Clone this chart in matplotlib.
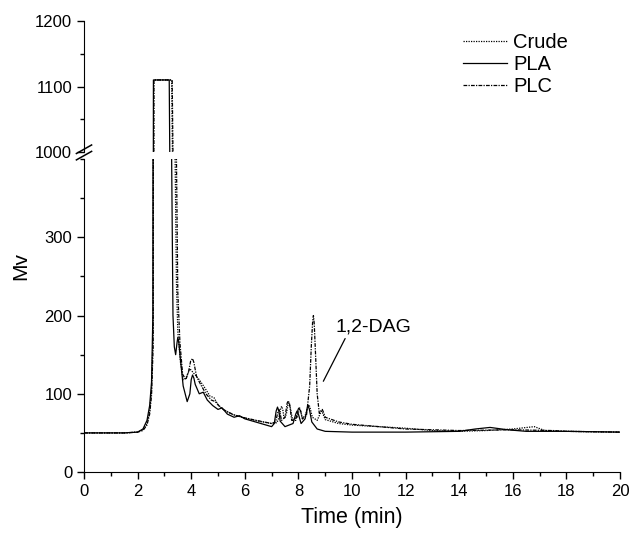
import matplotlib
matplotlib.use("Agg")
import matplotlib.pyplot as plt
from matplotlib.lines import Line2D
from matplotlib.ticker import MultipleLocator

plt.rcParams['font.family'] = ['Liberation Sans', 'DejaVu Sans']

# values (time in min, signal in Mv)
crude_t = [0, 1.5, 2.0, 2.2, 2.35, 2.45, 2.52, 2.58, 2.6, 3.27, 3.3, 3.4, 3.45, 3.5,
           3.6, 3.7, 3.8, 3.95, 4.05, 4.15, 4.3, 4.5, 4.7, 4.85, 5.0, 5.2, 5.5, 5.7,
           6.0, 6.5, 7.0, 7.2, 7.3, 7.34, 7.38, 7.42, 7.47, 7.55, 7.61, 7.65, 7.7,
           7.78, 7.95, 8.02, 8.05, 8.09, 8.15, 8.28, 8.36, 8.4, 8.45, 8.52, 8.7,
           8.83, 8.87, 8.92, 9.0, 9.5, 10, 11, 12, 13, 14, 15, 16, 16.8,
           17.2, 18, 20]
crude_v = [50, 50, 51, 54, 62, 78, 105, 180, 1110, 1110, 1000, 400, 240, 180,
           140, 118, 120, 132, 128, 124, 118, 108, 97, 95, 86, 80, 74, 72,
           69, 65, 62, 63, 72, 82, 84, 79, 68, 74, 86, 88, 82,
           67, 70, 78, 80, 77, 68, 74, 85, 86, 80, 70, 66,
           76, 78, 74, 67, 62, 60, 58, 56, 53, 52, 53, 55, 58, 53, 52, 51]

pla_t = [0, 1.5, 2.0, 2.2, 2.35, 2.45, 2.52, 2.57, 2.59, 3.18, 3.2, 3.27, 3.32,
         3.37, 3.42, 3.47, 3.5, 3.54, 3.58, 3.7, 3.85, 3.95, 4.0, 4.05, 4.1,
         4.15, 4.3, 4.45, 4.6, 4.8, 5.0, 5.15, 5.35, 5.6, 5.8, 6.0, 6.5, 7.0, 7.1,
         7.17, 7.22, 7.27, 7.32, 7.5, 7.8, 7.9, 7.95, 8.0, 8.1, 8.25, 8.33, 8.37,
         8.41, 8.5, 8.7, 9.0, 10, 12, 14, 14.6, 15.15, 15.8, 16.5, 17, 18, 20]
pla_v = [50, 50, 51, 55, 66, 85, 115, 200, 1110, 1110, 1000, 400, 200, 160,
         150, 165, 172, 165, 150, 110, 90, 100, 118, 124, 120, 112, 100, 102,
         92, 85, 80, 82, 74, 70, 72, 68, 63, 58, 62, 78, 83, 78, 65, 58, 62,
         74, 78, 74, 62, 68, 82, 84, 80, 64, 55, 52, 51, 51, 52, 55, 57, 54,
         52, 52, 52, 51]

plc_t = [0, 1.5, 2.0, 2.2, 2.35, 2.45, 2.52, 2.58, 2.61, 3.29, 3.32, 3.45, 3.5,
         3.58, 3.68, 3.8, 3.9, 3.98, 4.05, 4.1, 4.2, 4.35, 4.55, 4.75, 4.9, 5.1,
         5.3, 5.6, 5.9, 6.3, 7.0, 7.15, 7.23, 7.27, 7.31, 7.37, 7.5, 7.58, 7.62,
         7.67, 7.75, 7.9, 7.99, 8.03, 8.07, 8.15, 8.3, 8.42, 8.48, 8.53, 8.56,
         8.59, 8.64, 8.7, 8.78, 8.85, 8.89, 8.94, 9.0, 9.5, 10, 11, 12, 14, 16,
         17.5, 18, 20]
plc_v = [50, 50, 51, 53, 60, 74, 98, 160, 1110, 1110, 1000, 400, 230,
         165, 125, 118, 128, 142, 145, 140, 122, 112, 100, 92, 90, 82,
         78, 73, 70, 67, 62, 64, 76, 80, 76, 66, 70, 88, 91, 87, 66, 66,
         80, 83, 80, 68, 72, 110, 160, 192, 200, 190, 150, 100, 75, 79, 80,
         76, 70, 64, 61, 58, 55, 53, 54, 53, 52, 51]

series = [
    ('Crude', crude_t, crude_v, (0, (1, 1))),
    ('PLA', pla_t, pla_v, '-'),
    ('PLC', plc_t, plc_v, (0, (3, 1, 1, 1))),
]

fig = plt.figure(figsize=(6.33, 5.33), dpi=100)
ax_lo = fig.add_axes([0.1327, 0.1144, 0.8468, 0.5872])
ax_hi = fig.add_axes([0.1327, 0.7148, 0.8468, 0.2458])

for ax in (ax_lo, ax_hi):
    for name, t, v, ls in series:
        ax.plot(t, v, color='black', lw=0.9, linestyle=ls, label=name)
    ax.set_xlim(0, 20)
    ax.spines['top'].set_visible(False)
    ax.spines['right'].set_visible(False)
    ax.yaxis.set_major_locator(MultipleLocator(100))
    ax.yaxis.set_minor_locator(MultipleLocator(50))
    ax.tick_params(which='major', direction='out', length=5, width=1, labelsize=12)
    ax.tick_params(which='minor', direction='out', length=3, width=1)

ax_lo.set_ylim(0, 400)
ax_lo.set_yticks([0, 100, 200, 300])
ax_lo.xaxis.set_major_locator(MultipleLocator(2))
ax_lo.xaxis.set_minor_locator(MultipleLocator(1))

ax_hi.set_ylim(1000, 1200)
ax_hi.spines['bottom'].set_visible(False)
ax_hi.tick_params(axis='x', which='both', bottom=False, labelbottom=False)

ax_lo.set_xlabel('Time (min)', fontsize=15.5, labelpad=6)
fig.text(0.032, 0.5, 'Mv', rotation=90, fontsize=15, ha='center', va='center')

# axis break marks on the left spine
x0 = 0.1327
for dy in (0.0, 0.012):
    fig.add_artist(Line2D([x0 - 0.012, x0 + 0.012], [0.700 + dy, 0.716 + dy],
                          color='black', lw=1.1))

# 1,2-DAG label with pointer line
ax_lo.annotate('1,2-DAG', xy=(8.93, 116), xytext=(9.4, 185), fontsize=14,
               ha='left', va='center',
               arrowprops=dict(arrowstyle='-', color='black', lw=0.9,
                               shrinkA=0, shrinkB=0, relpos=(0.14, 0.0)))

ax_hi.legend(loc='upper right', frameon=False, fontsize=14.5, handlelength=2.2,
             handletextpad=0.3, labelspacing=0.15, bbox_to_anchor=(0.937, 1.05))

fig.savefig('out.png', dpi=100)
